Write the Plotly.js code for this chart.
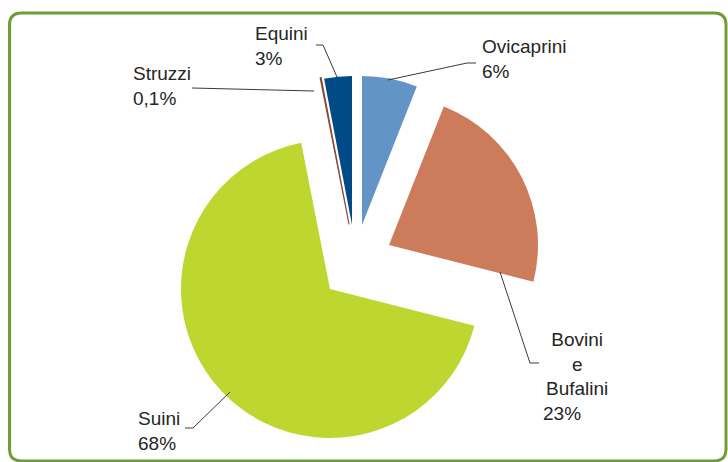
<!DOCTYPE html>
<html>
<head>
<meta charset="utf-8">
<script src="https://cdn.plot.ly/plotly-3.0.1.min.js"></script>
<style>html,body{margin:0;padding:0;background:#fff;}#chart{width:728px;height:462px;}</style>
</head>
<body>
<div id="chart"></div>
<script>
// Data
const labels = ['Ovicaprini', 'Bovini e Bufalini', 'Suini', 'Struzzi', 'Equini'];
const values = [6, 23, 68, 0.1, 3];
const pctText = ['6%', '23%', '68%', '0,1%', '3%'];
const colors = ['#6394c6', '#cc7b5b', '#bed730', '#8a4b3c', '#004b87'];

// Layout geometry (pixels)
const W = 728, H = 462, R = 149;
const apex = [[362, 225], [389, 245], [330, 289], [349, 224], [352, 225]];
const px = x => x / W;
const py = y => 1 - y / H;

const traces = labels.map((lab, i) => ({
  type: 'pie',
  labels: labels,
  values: values,
  sort: false,
  direction: 'clockwise',
  rotation: 0,
  textinfo: 'none',
  hoverinfo: 'label+percent',
  showlegend: false,
  marker: {
    colors: colors.map((c, j) => j === i ? c : 'rgba(0,0,0,0)'),
    line: {
      color: colors.map((c, j) => j === i ? c : 'rgba(0,0,0,0)'),
      width: colors.map((c, j) => (j === i && values[j] < 1) ? 1.2 : 0)
    }
  },
  domain: {
    x: [px(apex[i][0] - R), px(apex[i][0] + R)],
    y: [py(apex[i][1] + R), py(apex[i][1] - R)]
  }
}));

const txtFont = {family: 'Liberation Sans, Arial, sans-serif', size: 19, color: '#262626'};
function ann(text, x, y, xanchor, align) {
  return {text: text, x: px(x), y: py(y), xref: 'paper', yref: 'paper',
    xanchor: xanchor, yanchor: 'top', align: align, showarrow: false, font: txtFont, borderpad: 0};
}
const annotations = [
  ann(labels[0] + '<br>' + pctText[0], 481, 35, 'left', 'left'),
  ann(labels[1].split(' ').join('<br>'), 577, 328, 'center', 'center'),
  ann(pctText[1], 542, 402, 'left', 'left'),
  ann(labels[2] + '<br>' + pctText[2], 137, 407, 'left', 'left'),
  ann(labels[3] + '<br>' + pctText[3], 132, 62, 'left', 'left'),
  ann(labels[4] + '<br>' + pctText[4], 254, 22, 'left', 'left')
];

function seg(pts) {
  return {type: 'path', xref: 'paper', yref: 'paper',
    path: 'M' + pts.map(p => px(p[0]) + ',' + py(p[1])).join('L'),
    line: {color: '#3a3a3a', width: 1}};
}
function roundRect(x0, y0, x1, y1, r) {
  const p = (x, y) => px(x) + ',' + py(y);
  return {type: 'path', xref: 'paper', yref: 'paper',
    path: 'M' + p(x0 + r, y0) + 'L' + p(x1 - r, y0) + 'Q' + p(x1, y0) + ' ' + p(x1, y0 + r) +
      'L' + p(x1, y1 - r) + 'Q' + p(x1, y1) + ' ' + p(x1 - r, y1) +
      'L' + p(x0 + r, y1) + 'Q' + p(x0, y1) + ' ' + p(x0, y1 - r) +
      'L' + p(x0, y0 + r) + 'Q' + p(x0, y0) + ' ' + p(x0 + r, y0) + 'Z',
    line: {color: '#6e9d34', width: 3}};
}

const shapes = [
  roundRect(9.5, 13, 726, 461, 12),
  seg([[388, 80], [467, 63], [476, 63]]),
  seg([[337, 77], [323, 45], [316, 45]]),
  seg([[314, 91], [192, 88]]),
  seg([[500, 272], [530, 363], [539, 363]]),
  seg([[230, 392], [193, 428], [185, 428]])
];

const layout = {
  width: W, height: H,
  margin: {l: 0, r: 0, t: 0, b: 0},
  paper_bgcolor: '#ffffff',
  plot_bgcolor: '#ffffff',
  showlegend: false,
  annotations: annotations,
  shapes: shapes
};

Plotly.newPlot('chart', traces, layout, {displayModeBar: false, staticPlot: true});
</script>
</body>
</html>
